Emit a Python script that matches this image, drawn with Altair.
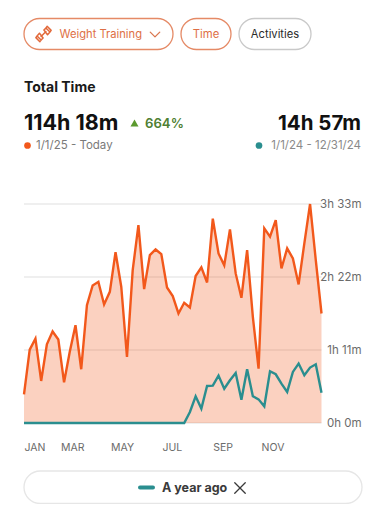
import altair as alt
import pandas as pd

this_year = [27.9, 71.4, 82.1, 40.9, 76.6, 89.0, 81.2, 39.6, 69.2, 95.1, 52.3, 114.6, 133.8, 137.3,
             115.3, 127.6, 166.2, 132.5, 64.3, 148.7, 192.5, 130.2, 163.3, 168.8, 164.3, 131.8,
             123.4, 106.5, 116.9, 112.3, 142.9, 151.3, 136.7, 198.7, 164.9, 153.3, 188.3, 145.5,
             121.8, 168.2, 103.3, 52.9, 189.3, 181.2, 197.4, 150.3, 169.8, 160.1, 134.8, 174.7,
             213.0, 158.5, 106.5]
last_year = [0] * 29 + [10.7, 26.0, 14.0, 36.0, 36.4, 46.1, 33.4, 41.6, 48.7, 22.7, 52.3, 26.0,
                        23.0, 16.2, 50.3, 47.4, 38.3, 30.2, 49.7, 57.8, 46.4, 53.9, 57.1, 29.5]
month_ticks = [1, 3, 5, 7, 9, 11]
minute_ticks = [0, 71, 142, 213]

ORANGE = "#F2581B"
TEAL = "#2A8E8F"
PILL_TEXT = "#DE6F45"
FONT = "Inter"
OX, OY = 8, 8  # page margin

df = pd.DataFrame({
    "week": pd.date_range("2025-01-01", periods=len(this_year), freq="7D"),
    "now": this_year,
    "before": last_year,
})
grid_df = pd.DataFrame({"m": minute_ticks})

x_scale = alt.Scale(domain=[alt.DateTime(year=2025, month=1, date=1),
                            alt.DateTime(year=2025, month=12, date=31)],
                    range=[24 - OX, 321.5 - OX])
y_scale = alt.Scale(domain=[0, 213], range=[423 - OY, 204 - OY], nice=False, zero=True)

x_axis = alt.Axis(
    values=[alt.DateTime(year=2025, month=m, date=1) for m in month_ticks],
    labelExpr="upper(timeFormat(datum.value, '%b'))",
    orient="bottom", offset=-(496 - (423 - OY)), labelPadding=19, labelFlush=True,
    domain=False, ticks=False, grid=False, labelFont=FONT, labelFontSize=10.5, labelColor="#6B6B6B")
y_axis = alt.Axis(
    values=minute_ticks,
    labelExpr="floor(datum.value / 60) + 'h ' + (datum.value % 60) + 'm'",
    orient="right", offset=-17, labelAlign="right", labelPadding=0,
    domain=False, ticks=False, grid=False, labelFont=FONT, labelFontSize=11.5, labelColor="#6B6B6B")

blank = alt.Data(values=[{}])


def pill(x0, x1, y0, y1, color):
    return alt.Chart(blank).mark_rect(
        cornerRadius=(y1 - y0) / 2, fill="white", stroke=color, strokeWidth=1.3
    ).encode(x=alt.value(x0 - OX), x2=alt.value(x1 - OX), y=alt.value(y0 - OY), y2=alt.value(y1 - OY))


def label(s, x, y, size, color, weight="normal", align="left"):
    return alt.Chart(blank).mark_text(
        text=s, fontSize=size, color=color, fontWeight=weight, align=align, baseline="middle", font=FONT
    ).encode(x=alt.value(x - OX), y=alt.value(y - OY))


def glyph(path, x, y, size, color, width=1.4, filled=False):
    kw = dict(fill=color, strokeWidth=0) if filled else dict(fill=None, stroke=color, strokeWidth=width)
    return alt.Chart(blank).mark_point(
        shape=path, size=size, filled=filled, opacity=1, strokeCap="round", strokeJoin="round", **kw
    ).encode(x=alt.value(x - OX), y=alt.value(y - OY))


DUMBBELL = ("M-0.3,0.3L0.3,-0.3 "
            "M-0.5,-0.1L-0.05,0.5L-0.3,0.75L-0.8,0.25Z M-0.8,0.25L-0.95,0.45L-0.45,0.95L-0.3,0.75 "
            "M0.5,0.1L0.05,-0.5L0.3,-0.75L0.8,-0.25Z M0.8,-0.25L0.95,-0.45L0.45,-0.95L0.3,-0.75")

ui = [
    pill(24, 173, 18.5, 49.5, "#E58A66"),
    pill(181, 231, 18.5, 49.5, "#E58A66"),
    pill(239, 311, 18.5, 49.5, "#C9C9C9"),
    pill(24, 362, 471, 503.5, "#E6E6E6"),
    glyph(DUMBBELL, 43.5, 34, 260, "#E2693A", 1.5),
    label("Weight Training", 59.5, 34.5, 11.2, PILL_TEXT),
    glyph("M-1,-0.5L0,0.5L1,-0.5", 155, 34.5, 90, "#D9764F", 1.3),
    label("Time", 206, 34.5, 11.3, PILL_TEXT, align="center"),
    label("Activities", 275, 34.5, 11.2, "#2A2A2A", align="center"),
    label("Total Time", 24, 87.5, 14, "#1A1A1A", "bold"),
    label("114h 18m", 24, 123.5, 21.5, "#111111", "bold"),
    glyph("triangle-up", 134.5, 123, 65, "#5B9A2E", filled=True),
    label("664%", 145, 124, 13.2, "#4F7F33", 600),
    glyph("circle", 27.5, 145.5, 45, ORANGE, filled=True),
    label("1/1/25 - Today", 36, 146, 11.5, "#7A7A7A"),
    label("14h 57m", 361, 123.5, 20.5, "#111111", "bold", "right"),
    glyph("circle", 259, 145.5, 45, TEAL, filled=True),
    label("1/1/24 - 12/31/24", 361, 146, 11.5, "#8A8A8A", align="right"),
    alt.Chart(blank).mark_rule(color=TEAL, strokeWidth=4, strokeCap="round").encode(
        x=alt.value(140 - OX), x2=alt.value(153 - OX), y=alt.value(487.5 - OY)),
    label("A year ago", 162, 488, 12.5, "#3A3A3A", "bold"),
    glyph("M-1,-1L1,1M-1,1L1,-1", 240, 488, 110, "#3A3A3A", 1.3),
]

grid = alt.Chart(grid_df).mark_rule(color="#EAEAEA", strokeWidth=1.5).encode(
    y=alt.Y("m:Q", scale=y_scale, title=None, axis=y_axis), x=alt.value(24 - OX), x2=alt.value(321.5 - OX))
area = alt.Chart(df).mark_area(color=ORANGE, opacity=0.28).encode(
    x=alt.X("week:T", scale=x_scale, title=None, axis=x_axis),
    y=alt.Y("now:Q", scale=y_scale, title=None, axis=y_axis))
line_now = alt.Chart(df).mark_line(color=ORANGE, strokeWidth=2.4).encode(
    x=alt.X("week:T", scale=x_scale, title=None, axis=x_axis),
    y=alt.Y("now:Q", scale=y_scale, title=None, axis=y_axis))
line_before = alt.Chart(df).mark_line(color=TEAL, strokeWidth=2.4).encode(
    x=alt.X("week:T", scale=x_scale, title=None, axis=x_axis),
    y=alt.Y("before:Q", scale=y_scale, title=None, axis=y_axis))

chart = alt.layer(grid, area, line_now, line_before, *ui).properties(
    width=370, height=496, padding=0, autosize=alt.AutoSizeParams(type="none"), background="white"
).configure_view(stroke=None)

chart.save("out.html", embed_options={"renderer": "svg", "actions": False})
